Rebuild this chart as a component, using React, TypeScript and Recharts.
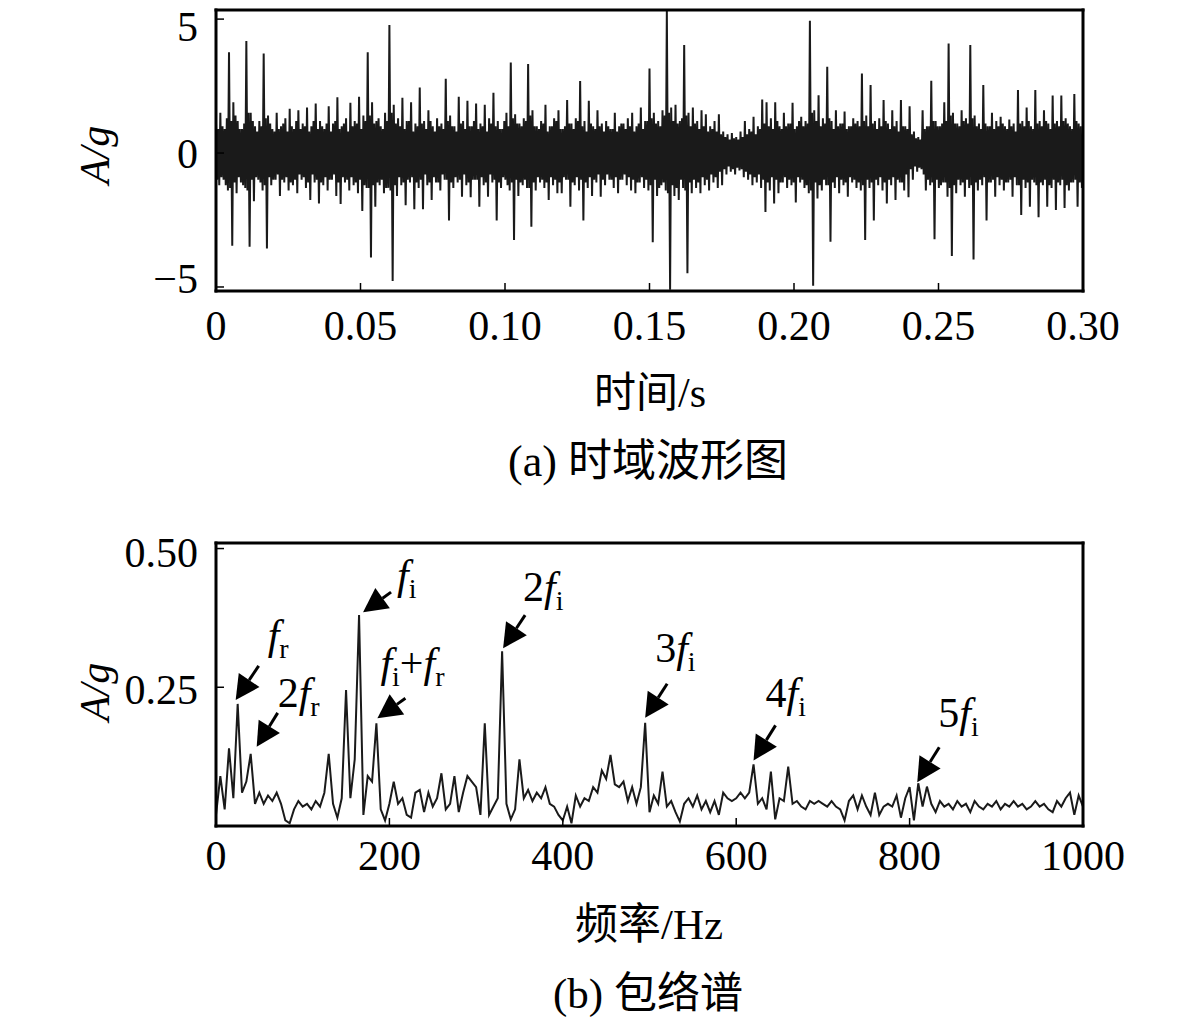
import React from "react";
import { LineChart, Line, XAxis, YAxis, ReferenceDot } from "recharts";

const SERIF = "'Liberation Serif', 'Times New Roman', 'Noto Sans CJK SC', serif";
const INK = "#1a1a1a";

// (a) time waveform, 1.5 ms steps: the large swings of each step ...
const timeStep = 0.0015;
const waveHigh = [
  1.1, 1.5, 0.9, 3.76, 1.9, 1.2, 0.9, 4.18, 1.5, 1.0,
  1.2, 3.72, 1.4, 0.9, 1.5, 1.0, 1.3, 1.65, 0.9, 1.6,
  1.1, 1.7, 1.0, 1.85, 1.2, 0.9, 1.75, 1.1, 2.08, 1.0,
  1.3, 1.88, 1.2, 2.1, 1.4, 3.76, 1.9, 1.2, 1.0, 1.5,
  4.78, 1.8, 1.3, 2.06, 1.2, 1.9, 1.1, 2.45, 1.2, 1.6,
  1.0, 1.3, 1.1, 2.77, 1.4, 1.0, 2.1, 1.2, 1.95, 1.0,
  1.85, 1.1, 1.8, 1.3, 2.25, 1.2, 0.9, 1.5, 3.38, 1.45,
  1.1, 1.3, 3.32, 1.6, 1.0, 1.2, 1.8, 1.0, 1.3, 1.6,
  0.9, 1.98, 1.1, 1.3, 2.69, 1.2, 1.95, 1.0, 1.6, 1.1,
  1.2, 0.9, 1.5, 1.0, 1.1, 1.3, 1.5, 1.0, 1.7, 1.2,
  3.16, 1.5, 1.2, 1.6, 5.3, 1.7, 1.8, 1.2, 4.03, 1.5,
  1.7, 1.2, 1.6, 1.45, 1.0, 1.2, 1.45, 0.8, 0.7, 0.75,
  0.6, 0.8, 1.2, 0.9, 1.35, 1.0, 2.0, 1.9, 1.3, 1.9,
  1.0, 1.5, 1.1, 1.88, 1.0, 1.35, 1.2, 4.94, 1.6, 2.16,
  1.3, 3.22, 1.2, 1.6, 1.1, 1.55, 1.0, 1.3, 1.2, 2.97,
  1.4, 2.54, 1.2, 1.3, 1.98, 1.1, 1.6, 1.2, 1.98, 1.0,
  1.75, 0.8, 0.6, 1.6, 1.0, 2.7, 1.2, 1.0, 1.9, 4.09,
  1.5, 1.1, 1.6, 1.3, 4.03, 1.4, 1.1, 2.54, 1.0, 1.5,
  1.2, 1.35, 1.0, 1.25, 1.1, 2.35, 1.2, 1.7, 1.0, 2.35,
  1.2, 1.6, 1.1, 2.15, 1.2, 2.15, 1.3, 1.0, 2.2, 1.1,
];
const waveLow = [
  -1.2, -1.0, -1.4, -3.46, -1.5, -1.1, -1.3, -3.5, -1.8, -1.0,
  -1.4, -3.56, -1.2, -1.0, -1.6, -1.1, -1.4, -1.2, -1.5, -1.0,
  -1.3, -1.75, -1.1, -1.88, -1.2, -1.4, -1.0, -1.6, -1.9, -1.1,
  -1.4, -1.2, -1.5, -2.16, -1.3, -3.9, -2.0, -1.2, -1.5, -1.3,
  -4.78, -1.6, -1.2, -1.95, -1.1, -2.1, -1.3, -2.1, -1.2, -1.75,
  -1.1, -1.4, -1.0, -2.52, -1.3, -1.1, -1.63, -1.2, -1.65, -1.0,
  -2.0, -1.2, -1.63, -1.1, -2.52, -1.3, -1.0, -1.4, -3.25, -1.6,
  -1.2, -1.3, -2.75, -1.4, -1.1, -1.3, -1.75, -1.2, -1.5, -1.5,
  -1.0, -2.0, -1.2, -1.4, -2.52, -1.3, -1.6, -1.1, -1.63, -1.2,
  -1.0, -1.3, -1.5, -1.0, -1.2, -1.4, -1.5, -1.1, -1.3, -1.4,
  -3.33, -1.6, -1.2, -1.4, -5.1, -1.6, -1.75, -1.3, -4.49, -1.5,
  -1.3, -1.5, -1.2, -1.4, -1.1, -1.3, -1.2, -0.8, -0.7, -0.8,
  -0.65, -0.9, -1.0, -1.2, -1.1, -1.3, -2.2, -1.4, -1.88, -1.5,
  -1.1, -1.3, -1.2, -1.85, -1.1, -1.3, -1.5, -4.95, -1.7, -1.4,
  -1.2, -3.31, -1.3, -1.5, -1.2, -1.63, -1.1, -1.3, -1.4, -3.25,
  -1.3, -2.52, -1.2, -1.4, -1.88, -1.2, -1.75, -1.1, -1.4, -1.65,
  -1.0, -0.7, -0.6, -1.4, -1.2, -3.22, -1.3, -1.1, -1.63, -3.84,
  -1.5, -1.2, -1.63, -1.3, -3.97, -1.4, -1.2, -2.52, -1.1, -1.63,
  -1.2, -1.4, -1.1, -1.63, -1.2, -2.31, -1.3, -2.0, -1.1, -2.4,
  -1.2, -2.0, -1.3, -2.13, -1.2, -2.05, -1.4, -1.1, -2.0, -1.3,
];
// ... and the smaller swings in between them, which fill the dark core band
const coreHigh = [
  0.9, 1.0, 1.3, 1.2, 1.4, 0.9, 1.1, 1.5, 1.2, 0.8,
  1.0, 1.3, 1.1, 0.8, 0.9, 1.1, 0.8, 1.0, 1.2, 0.9,
  1.0, 0.8, 1.2, 0.9, 1.0, 1.1, 0.8, 1.2, 0.9, 1.1,
  0.8, 1.0, 1.1, 0.9, 1.2, 1.4, 1.1, 1.3, 0.9, 1.2,
  1.5, 1.1, 1.0, 0.9, 1.2, 0.8, 1.0, 1.1, 0.9, 1.2,
  0.8, 1.0, 0.9, 1.2, 1.0, 0.8, 1.1, 0.9, 1.0, 1.2,
  0.9, 1.0, 0.8, 1.1, 1.0, 0.9, 1.2, 1.0, 1.3, 1.1,
  1.0, 1.2, 1.4, 1.0, 0.9, 1.1, 0.8, 1.0, 1.2, 0.9,
  1.0, 1.1, 0.9, 1.2, 1.0, 0.8, 1.1, 0.9, 1.0, 0.8,
  1.0, 0.9, 0.8, 1.1, 0.9, 1.0, 0.8, 1.1, 0.9, 1.2,
  1.3, 1.1, 1.0, 1.4, 1.5, 1.2, 1.1, 1.3, 1.4, 1.0,
  1.1, 0.9, 1.0, 0.8, 0.9, 0.8, 0.7, 0.6, 0.5, 0.55,
  0.5, 0.6, 0.7, 0.8, 0.7, 0.9, 1.1, 1.0, 0.9, 1.2,
  0.9, 1.0, 1.1, 0.9, 1.2, 1.0, 1.1, 1.5, 1.2, 1.0,
  1.1, 1.3, 0.9, 1.0, 1.1, 0.9, 1.0, 1.1, 1.0, 1.2,
  1.0, 1.1, 0.9, 1.0, 1.2, 0.9, 1.0, 0.8, 1.0, 0.9,
  0.7, 0.55, 0.5, 0.9, 1.0, 1.2, 1.0, 1.1, 1.2, 1.4,
  1.1, 1.0, 1.2, 1.1, 1.3, 1.0, 0.9, 1.1, 1.0, 0.9,
  1.0, 1.1, 0.9, 1.0, 0.8, 1.1, 1.0, 1.2, 0.9, 1.1,
  1.0, 1.2, 0.9, 1.1, 1.0, 1.2, 1.1, 0.9, 1.2, 1.0,
];
const coreLow = [
  -1.0, -0.9, -1.2, -1.3, -1.1, -0.9, -1.2, -1.4, -1.0, -0.9,
  -1.1, -1.2, -0.9, -1.0, -0.8, -1.0, -0.9, -1.1, -1.0, -0.8,
  -0.9, -1.1, -0.8, -1.0, -1.1, -0.9, -1.0, -0.8, -1.1, -0.9,
  -1.0, -0.9, -1.1, -1.0, -1.2, -1.3, -1.2, -1.1, -1.0, -1.3,
  -1.4, -1.2, -0.9, -1.1, -1.0, -0.9, -1.1, -1.0, -0.8, -1.1,
  -0.9, -1.1, -0.8, -1.0, -1.1, -0.9, -1.0, -0.8, -1.1, -1.0,
  -1.0, -0.9, -1.1, -0.8, -1.0, -1.1, -0.9, -1.2, -1.1, -1.0,
  -1.1, -1.0, -1.3, -1.1, -0.9, -1.0, -1.1, -0.9, -1.0, -1.1,
  -0.9, -1.0, -1.1, -0.9, -1.0, -1.1, -0.9, -1.0, -0.8, -1.0,
  -0.8, -1.0, -0.9, -1.0, -0.8, -0.9, -1.0, -1.1, -0.9, -1.0,
  -1.2, -1.0, -1.3, -1.1, -1.5, -1.2, -1.3, -1.0, -1.4, -1.1,
  -1.0, -1.1, -0.9, -1.0, -0.8, -0.9, -0.7, -0.6, -0.5, -0.6,
  -0.55, -0.6, -0.7, -0.8, -0.9, -0.8, -1.0, -1.1, -0.9, -1.0,
  -1.1, -0.9, -1.0, -1.1, -0.9, -1.0, -1.2, -1.4, -1.1, -1.2,
  -1.0, -1.2, -1.1, -0.9, -1.0, -1.1, -0.9, -1.0, -1.1, -1.2,
  -1.0, -1.1, -1.0, -0.9, -1.1, -1.0, -0.9, -1.0, -1.1, -0.8,
  -0.6, -0.5, -0.55, -0.8, -1.0, -1.1, -1.0, -1.2, -1.1, -1.3,
  -1.2, -1.0, -1.1, -1.0, -1.2, -1.1, -1.0, -0.9, -1.1, -1.0,
  -0.9, -1.0, -1.1, -1.0, -0.9, -1.2, -1.0, -1.1, -1.0, -1.2,
  -1.1, -1.0, -1.2, -1.0, -1.1, -1.0, -1.2, -1.1, -1.0, -1.1,
];
const timeTicks = [0, 0.05, 0.1, 0.15, 0.2, 0.25, 0.3];
const waveTicks = [-5, 0, 5];

// (b) envelope spectrum, 5 Hz bins from 0 to 1000 Hz
const freqStep = 5;
const envAmp = [
  0.02, 0.09, 0.03, 0.14, 0.05, 0.22, 0.06, 0.08, 0.13, 0.04,
  0.06, 0.04, 0.055, 0.045, 0.06, 0.04, 0.01, 0.005, 0.03, 0.045,
  0.035, 0.04, 0.03, 0.045, 0.035, 0.06, 0.13, 0.04, 0.015, 0.05,
  0.245, 0.05, 0.12, 0.38, 0.02, 0.09, 0.08, 0.185, 0.03, 0.01,
  0.04, 0.08, 0.04, 0.05, 0.02, 0.015, 0.06, 0.065, 0.025, 0.06,
  0.035, 0.05, 0.095, 0.03, 0.04, 0.09, 0.025, 0.06, 0.09, 0.08,
  0.07, 0.02, 0.185, 0.02, 0.035, 0.05, 0.315, 0.04, 0.012, 0.03,
  0.12, 0.05, 0.065, 0.045, 0.06, 0.05, 0.07, 0.04, 0.035, 0.02,
  0.01, 0.035, 0.005, 0.055, 0.035, 0.05, 0.045, 0.07, 0.06, 0.1,
  0.085, 0.128, 0.075, 0.07, 0.08, 0.045, 0.07, 0.04, 0.07, 0.186,
  0.025, 0.055, 0.04, 0.098, 0.035, 0.045, 0.025, 0.008, 0.04, 0.05,
  0.035, 0.055, 0.03, 0.045, 0.025, 0.045, 0.02, 0.06, 0.05, 0.045,
  0.05, 0.06, 0.05, 0.06, 0.111, 0.04, 0.05, 0.03, 0.098, 0.012,
  0.05, 0.045, 0.107, 0.04, 0.045, 0.035, 0.03, 0.045, 0.04, 0.045,
  0.04, 0.035, 0.045, 0.035, 0.03, 0.01, 0.045, 0.055, 0.03, 0.055,
  0.035, 0.02, 0.06, 0.02, 0.035, 0.04, 0.035, 0.055, 0.015, 0.05,
  0.07, 0.01, 0.077, 0.035, 0.071, 0.04, 0.025, 0.045, 0.035, 0.04,
  0.03, 0.045, 0.035, 0.04, 0.025, 0.045, 0.035, 0.03, 0.04, 0.035,
  0.045, 0.03, 0.04, 0.035, 0.045, 0.035, 0.04, 0.03, 0.035, 0.045,
  0.035, 0.04, 0.03, 0.025, 0.045, 0.035, 0.05, 0.06, 0.02, 0.055,
  0.035,
];
const freqTicks = [0, 200, 400, 600, 800, 1000];
const envTicks = [0.25, 0.5];

// peak annotations: [text, style] parts; it = italic, sub = subscript, rm = roman
const peakFreqs = [25, 40, 165, 185, 330, 495, 620, 810];
const peakTexts = [
  [["f", "it"], ["r", "sub"]],
  [["2", "rm"], ["f", "it"], ["r", "sub"]],
  [["f", "it"], ["i", "sub"]],
  [["f", "it"], ["i", "sub"], ["+", "rm"], ["f", "it"], ["r", "sub"]],
  [["2", "rm"], ["f", "it"], ["i", "sub"]],
  [["3", "rm"], ["f", "it"], ["i", "sub"]],
  [["4", "rm"], ["f", "it"], ["i", "sub"]],
  [["5", "rm"], ["f", "it"], ["i", "sub"]],
];
// arrow tip offset from peak, arrow tail vector, label anchor from tip (px)
const peakStyle = [
  { tip: [-2, -4], tail: [23, -34], lab: [32, -51] },
  { tip: [6, -7], tail: [21, -34], lab: [21, -40] },
  { tip: [4, -3], tail: [28, -20], lab: [34, -23] },
  { tip: [1, -5], tail: [28, -20], lab: [3, -41] },
  { tip: [1, -3], tail: [22, -33], lab: [20, -47] },
  { tip: [0, -5], tail: [22, -34], lab: [10, -56] },
  { tip: [0, -4], tail: [22, -35], lab: [12, -53] },
  { tip: [-1, -1], tail: [22, -35], lab: [21, -55] },
];

const fmtTime = (v: number) => (v === 0 ? "0" : v.toFixed(2));
const fmtWave = (v: number) => (v < 0 ? "\u2212" + Math.abs(v) : String(v));
const fmtEnv = (v: number) => v.toFixed(2);
const blank = () => "";

const frame = { stroke: "#000", strokeWidth: 3, strokeLinecap: "square" as const };
const tickStroke = { stroke: "#000", strokeWidth: 1.5 };
const tickFont = { fill: "#000", fontSize: 42, fontFamily: SERIF };

function YTick(props: any) {
  const { x, y, payload, nudge } = props;
  const dy = nudge[payload.value] || 0;
  return (
    <text x={x} y={y + dy} dy="0.35em" textAnchor="end" fill="#000" fontSize={42} fontFamily={SERIF}>
      {props.fmt(payload.value)}
    </text>
  );
}

function PeakArrow(props: any) {
  const { cx, cy, idx } = props;
  const s = peakStyle[idx];
  const tx = cx + s.tip[0];
  const ty = cy + s.tip[1];
  const len = Math.hypot(s.tail[0], s.tail[1]);
  const ux = s.tail[0] / len;
  const uy = s.tail[1] / len;
  const headLen = 24;
  const half = 12.5;
  const bx = tx + ux * headLen;
  const by = ty + uy * headLen;
  const pts = [
    [tx, ty],
    [bx - uy * half, by + ux * half],
    [bx + uy * half, by - ux * half],
  ]
    .map((p) => p.join(","))
    .join(" ");
  let shift = 0;
  return (
    <g>
      <line x1={bx} y1={by} x2={tx + s.tail[0]} y2={ty + s.tail[1]} stroke="#000" strokeWidth={3} />
      <polygon points={pts} fill="#000" />
      <text x={tx + s.lab[0]} y={ty + s.lab[1]} fontFamily={SERIF} fontSize={42} fill="#000">
        {peakTexts[idx].map(([t, kind], k) => {
          const target = kind === "sub" ? 9 : 0;
          const dy = target - shift;
          shift = target;
          return (
            <tspan
              key={k}
              dy={dy}
              fontStyle={kind === "it" ? "italic" : "normal"}
              fontSize={kind === "sub" ? 28 : 42}
            >
              {t}
            </tspan>
          );
        })}
      </text>
    </g>
  );
}

function Caption({ x, y, size, children, rotate, italic }: any) {
  return (
    <div
      style={{
        position: "absolute",
        left: x,
        top: y,
        transform: `translate(-50%, -50%)${rotate ? " rotate(-90deg)" : ""}`,
        fontFamily: SERIF,
        fontSize: size,
        fontStyle: italic ? "italic" : "normal",
        lineHeight: 1,
        whiteSpace: "nowrap",
        color: "#000",
      }}
    >
      {children}
    </div>
  );
}

export default function App() {
  const wave = waveHigh.flatMap((h, i) => [
    { t: i * timeStep, a: h },
    { t: (i + 0.25) * timeStep, a: coreLow[i] },
    { t: (i + 0.5) * timeStep, a: coreHigh[i] },
    { t: (i + 0.75) * timeStep, a: waveLow[i] },
  ]);
  const spectrum = envAmp.map((a, i) => ({ f: i * freqStep, a }));

  return (
    <div style={{ position: "absolute", left: 0, top: 0, width: 1181, height: 1025, background: "#fff" }}>
      <div style={{ position: "absolute", left: 0, top: 0 }}>
        <LineChart width={1181} height={360} data={wave} margin={{ top: 9, right: 97, bottom: 0, left: 0 }}>
          <XAxis
            dataKey="t"
            type="number"
            domain={[0, 0.3]}
            ticks={timeTicks}
            tickFormatter={fmtTime}
            height={69}
            tickSize={-8}
            tickMargin={27}
            axisLine={frame}
            tickLine={tickStroke}
            tick={tickFont}
            interval={0}
          />
          <XAxis xAxisId="top" orientation="top" type="number" domain={[0, 0.3]} ticks={timeTicks} tickFormatter={blank} height={1} tickSize={-8} axisLine={frame} tickLine={tickStroke} interval={0} />
          <YAxis
            type="number"
            domain={[-5.15, 5.34]}
            ticks={waveTicks}
            width={216}
            tickSize={-8}
            tickMargin={26}
            axisLine={frame}
            tickLine={tickStroke}
            tick={(p: any) => <YTick {...p} fmt={fmtWave} nudge={{ 5: 7, "-5": -9 }} />}
            interval={0}
            allowDataOverflow
          />
          <YAxis yAxisId="right" orientation="right" type="number" domain={[-5.15, 5.34]} ticks={waveTicks} tickFormatter={blank} width={1} tickSize={-8} axisLine={frame} tickLine={tickStroke} interval={0} />
          <Line type="linear" dataKey="a" stroke={INK} strokeWidth={2} dot={false} isAnimationActive={false} />
        </LineChart>
      </div>

      <div style={{ position: "absolute", left: 0, top: 513 }}>
        <LineChart width={1181} height={380} data={spectrum} margin={{ top: 29, right: 97, bottom: 0, left: 0 }}>
          <XAxis
            dataKey="f"
            type="number"
            domain={[0, 1000]}
            ticks={freqTicks}
            height={67}
            tickSize={-8}
            tickMargin={22}
            axisLine={frame}
            tickLine={tickStroke}
            tick={tickFont}
            interval={0}
          />
          <XAxis xAxisId="top" orientation="top" type="number" domain={[0, 1000]} ticks={freqTicks} tickFormatter={blank} height={1} tickSize={-8} axisLine={frame} tickLine={tickStroke} interval={0} />
          <YAxis
            type="number"
            domain={[0, 0.51]}
            ticks={envTicks}
            width={216}
            tickSize={-8}
            tickMargin={26}
            axisLine={frame}
            tickLine={tickStroke}
            tick={(p: any) => <YTick {...p} fmt={fmtEnv} nudge={{ 0.5: 4, 0.25: 2 }} />}
            interval={0}
          />
          <YAxis yAxisId="right" orientation="right" type="number" domain={[0, 0.51]} ticks={envTicks} tickFormatter={blank} width={1} tickSize={-8} axisLine={frame} tickLine={tickStroke} interval={0} />
          <Line type="linear" dataKey="a" stroke={INK} strokeWidth={2} dot={false} isAnimationActive={false} />
          {peakFreqs.map((f, i) => (
            <ReferenceDot
              key={f}
              x={f}
              y={envAmp[f / freqStep]}
              ifOverflow="visible"
              shape={(p: any) => <PeakArrow {...p} idx={i} />}
            />
          ))}
        </LineChart>
      </div>

      <Caption x={95} y={155} size={42} rotate italic>A/g</Caption>
      <Caption x={650} y={393} size={42}>时间/s</Caption>
      <Caption x={648} y={462} size={44}>(a) 时域波形图</Caption>

      <Caption x={95} y={692} size={42} rotate italic>A/g</Caption>
      <Caption x={649} y={924} size={43}>频率/Hz</Caption>
      <Caption x={648} y={993} size={43}>(b) 包络谱</Caption>
    </div>
  );
}
